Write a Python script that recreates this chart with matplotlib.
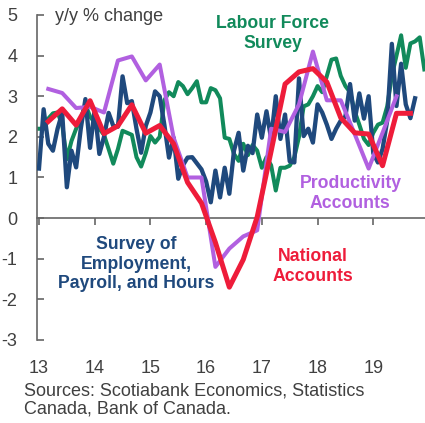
import numpy as np
import matplotlib
matplotlib.use("Agg")
import matplotlib.pyplot as plt

plt.rcParams['font.family'] = ['Liberation Sans', 'DejaVu Sans']

# ---- data (y/y % change) ----
start_year = 2013
# Survey of Employment, Payroll and Hours (monthly, Jan 2013 ->)
seph = [1.22, 2.68, 1.83, 1.66, 2.2, 2.59, 0.76, 1.66, 1.25, 2.2, 2.93, 1.73,
        2.68, 1.58, 2.0, 2.59, 2.27, 2.25, 3.49, 2.83, 2.88, 2.2, 1.61, 2.27,
        2.6, 3.12, 3.0, 2.3, 1.49, 1.98, 0.97, 1.3, 1.49, 1.5, 1.35, 1.2,
        0.9, 0.39, 1.17, 0.51, 1.24, 0.6, 1.66, 2.1, 1.17, 1.78, 1.6, 2.55,
        1.98, 2.63, 1.95, 3.0, 1.95, 2.55, 1.4, 1.37, 3.44, 2.02, 2.2, 1.86,
        2.8, 2.6, 2.3, 1.95, 2.2, 2.4, 2.5, 3.3, 2.4, 3.07, 2.45, 3.0,
        1.6, 1.37, 1.7, 2.4, 4.29, 2.76, 3.8, 2.8, 2.46, 2.95]
# Labour Force Survey (monthly, Jan 2013 ->)
lfs = [2.2, 2.2, 2.45, 2.58, 2.6, 2.3, 1.45, 1.9, 2.2, 2.45, 2.8, 2.5,
       2.35, 2.2, 2.05, 1.7, 1.34, 1.7, 2.15, 2.1, 2.05, 1.5, 1.27, 1.6,
       2.02, 1.86, 2.0, 2.9, 3.1, 3.0, 3.35, 3.25, 3.05, 3.2, 3.37, 2.85,
       2.85, 3.2, 3.15, 2.95, 1.98, 1.95, 1.58, 1.41, 1.83, 1.55, 1.8, 1.66,
       1.24, 1.5, 1.3, 0.68, 1.24, 1.24, 1.29, 1.5, 2.0, 2.75, 2.8, 3.0,
       3.25, 3.1, 3.5, 3.9, 3.93, 3.5, 3.25, 3.1, 2.63, 2.3, 1.95, 1.8,
       2.1, 2.3, 2.35, 2.75, 3.5, 4.0, 4.5, 3.7, 4.3, 4.35, 4.45, 3.66]
# Productivity Accounts (quarterly, 2013Q1 ->)
prod = [3.18, 3.08, 2.71, 2.74, 2.6, 3.88, 3.98, 3.39, 3.78, 1.98, 1.0, 1.0,
        -1.2, -0.75, -0.45, -0.3, 2.2, 2.12, 2.8, 4.1, 2.9, 2.9, 2.07, 1.22,
        2.1, 3.0]
# National Accounts (quarterly, 2013Q1 ->)
nat = [2.38, 2.69, 2.29, 2.89, 2.08, 2.27, 2.79, 2.09, 2.28, 1.83, 0.88, 0.37,
       -0.6, -1.7, -1.02, 0.03, 1.65, 3.3, 3.6, 3.68, 3.35, 2.47, 2.1, 2.07,
       1.29, 2.58, 2.58]

year_ticks = [2013, 2014, 2015, 2016, 2017, 2018, 2019]
year_labels = ['13', '14', '15', '16', '17', '18', '19']
y_ticks = [-3, -2, -1, 0, 1, 2, 3, 4, 5]

# monthly positions; quarterly values are plotted at the last month of quarter
x_seph = start_year + np.arange(len(seph)) / 12
x_lfs = start_year + np.arange(len(lfs)) / 12
x_prod = start_year + (2 + 3 * np.arange(len(prod))) / 12
x_nat = start_year + (2 + 3 * np.arange(len(nat))) / 12

c_blue = '#1F497D'
c_green = '#118A5B'
c_purple = '#B160E0'
c_red = '#EE1C3A'
c_text = '#404040'
c_axis = '#666666'

W, H = 425, 423
fig = plt.figure(figsize=(W / 100, H / 100), dpi=100)
ax = fig.add_axes([37 / W, (H - 340) / H, (W - 37) / W, (340 - 15) / H])

ax.plot(x_lfs, lfs, color=c_green, lw=2.9, zorder=2)
ax.plot(x_seph, seph, color=c_blue, lw=3.1, zorder=3)
ax.plot(x_prod, prod, color=c_purple, lw=2.9, zorder=4)
ax.plot(x_nat, nat, color=c_red, lw=3.6, zorder=5)

ax.set_xlim(2013 - 2 / 56, 2013 + 388 / 56)
ax.set_ylim(-3, 5)

for s in ['top', 'right']:
    ax.spines[s].set_visible(False)
ax.spines['bottom'].set_position(('data', 0))
for s in ['left', 'bottom']:
    ax.spines[s].set_color(c_axis)
    ax.spines[s].set_linewidth(1.2)

ax.set_yticks(y_ticks)
ax.set_yticklabels([str(v) for v in y_ticks])
ax.tick_params(axis='y', direction='in', length=5, width=1.2, color=c_axis,
               labelsize=13, labelcolor=c_text, pad=14)
ax.set_xticks(year_ticks)
ax.tick_params(axis='x', direction='out', length=5, width=1.2, color=c_axis,
               labelbottom=False)
for yr, lab in zip(year_ticks, year_labels):
    ax.text(yr, -3.7, lab, ha='center', va='center', fontsize=13,
            color=c_text, clip_on=False)

ax.text(2013 + 16 / 56, 4.97, 'y/y % change', ha='left', va='center',
        fontsize=13, color=c_text)

fs_lab = 12.7
ax.text(2013 + 235 / 56, 4.54, 'Labour Force\nSurvey', ha='center',
        va='center', fontsize=fs_lab, fontweight='bold', color=c_green,
        linespacing=1.2)
ax.text(2013 + 313 / 56, 0.6, 'Productivity\nAccounts', ha='center',
        va='center', fontsize=fs_lab, fontweight='bold', color=c_purple,
        linespacing=1.2)
ax.text(2013 + 98 / 56, -1.13, 'Survey of\nEmployment,\nPayroll, and Hours',
        ha='center', va='center', fontsize=fs_lab, fontweight='bold',
        color=c_blue, linespacing=1.2)
ax.text(2013 + 275 / 56, -1.19, 'National\nAccounts', ha='center',
        va='center', fontsize=fs_lab, fontweight='bold', color=c_red,
        linespacing=1.2)

fig.text(24 / W, 1 - 400 / H, 'Sources: Scotiabank Economics, Statistics\nCanada, Bank of Canada.',
         ha='left', va='center', fontsize=13, color=c_text, linespacing=1.15)

fig.savefig('out.png', dpi=100)
